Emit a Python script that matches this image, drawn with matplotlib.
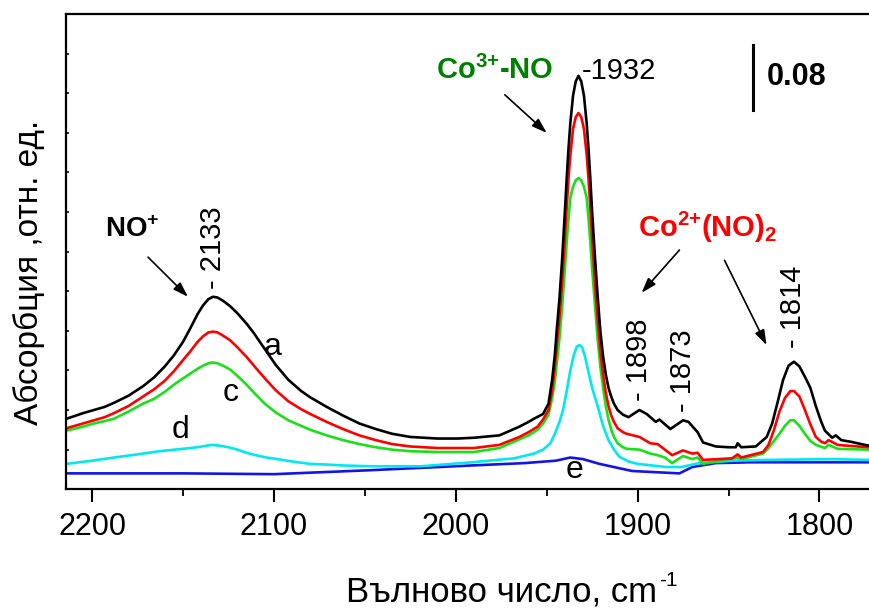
import numpy as np
import matplotlib
matplotlib.use('Agg')
import matplotlib.pyplot as plt
from matplotlib.ticker import MultipleLocator

plt.rcParams['font.family'] = ['Liberation Sans', 'DejaVu Sans']
plt.rcParams['mathtext.fontset'] = 'custom'
plt.rcParams['mathtext.rm'] = 'Liberation Sans'
plt.rcParams['mathtext.bf'] = 'Liberation Sans:bold'

# spectrum a (black)
wn_a = [2214, 2205, 2199, 2193, 2188, 2180, 2172, 2166, 2160, 2155, 2150, 2146, 2142, 2139,
        2136, 2133.5, 2131, 2128, 2124, 2120, 2115, 2111, 2105, 2099, 2092, 2085, 2080, 2071,
        2062, 2053, 2044, 2035, 2025, 2010, 1999, 1990, 1976, 1965, 1960, 1957, 1952, 1949,
        1947, 1945.5, 1944.5, 1943, 1941.5, 1940, 1939, 1938, 1937, 1935.5, 1934, 1932.5,
        1931, 1929.5, 1928, 1927, 1926, 1925, 1923.5, 1922, 1920.5, 1919, 1917.5, 1916,
        1914.5, 1913, 1911, 1908, 1905, 1899, 1895, 1890, 1888, 1882, 1875, 1872, 1867, 1864,
        1857, 1850, 1846, 1845, 1843, 1835, 1829, 1826, 1823, 1820, 1817, 1814, 1811, 1808,
        1805, 1802, 1799, 1797, 1793, 1791, 1788, 1783, 1773, 1740]
abs_a = [0.089, 0.096, 0.100, 0.104, 0.109, 0.118, 0.130, 0.141, 0.155, 0.169, 0.186, 0.203,
         0.221, 0.232, 0.240, 0.243, 0.242, 0.238, 0.231, 0.222, 0.209, 0.197, 0.177, 0.157,
         0.138, 0.124, 0.116, 0.104, 0.093, 0.083, 0.076, 0.070, 0.066, 0.064, 0.064, 0.065,
         0.068, 0.079, 0.085, 0.089, 0.095, 0.108, 0.138, 0.170, 0.200, 0.240, 0.290, 0.350,
         0.392, 0.430, 0.462, 0.497, 0.515, 0.522, 0.515, 0.497, 0.462, 0.430, 0.392, 0.350,
         0.295, 0.245, 0.200, 0.168, 0.145, 0.128, 0.117, 0.108, 0.100, 0.094, 0.091, 0.100,
         0.095, 0.085, 0.088, 0.076, 0.087, 0.085, 0.072, 0.059, 0.054, 0.053, 0.053, 0.058,
         0.053, 0.054, 0.066, 0.083, 0.110, 0.138, 0.156, 0.161, 0.155, 0.142, 0.128, 0.105,
         0.085, 0.074, 0.065, 0.068, 0.062, 0.060, 0.055, 0.052]

# spectrum b (red)
wn_b = [2214, 2205, 2199, 2193, 2188, 2180, 2172, 2166, 2160, 2155, 2150, 2146, 2142, 2139,
        2136, 2133.5, 2131, 2128, 2124, 2120, 2115, 2111, 2105, 2099, 2092, 2085, 2080, 2071,
        2062, 2053, 2044, 2035, 2025, 2010, 1990, 1976, 1965, 1960, 1955, 1952, 1949, 1947,
        1945.5, 1944.5, 1943, 1941.5, 1940, 1939, 1938, 1937, 1935.5, 1934, 1932.5, 1931,
        1929.5, 1928, 1927, 1926, 1925, 1923.5, 1922, 1920.5, 1919, 1917.5, 1916, 1914.5,
        1913, 1911, 1908, 1906, 1899, 1893, 1889, 1885, 1881, 1875, 1870, 1867, 1864, 1848,
        1845, 1843, 1831, 1828, 1825, 1822, 1819, 1816, 1814, 1811, 1808, 1805, 1802, 1799,
        1797, 1795, 1790, 1785, 1773, 1740]
abs_b = [0.077, 0.083, 0.087, 0.091, 0.096, 0.105, 0.117, 0.126, 0.137, 0.149, 0.163, 0.174,
         0.186, 0.193, 0.198, 0.199, 0.198, 0.194, 0.188, 0.179, 0.167, 0.156, 0.140, 0.125,
         0.111, 0.101, 0.095, 0.085, 0.076, 0.068, 0.062, 0.057, 0.054, 0.052, 0.052, 0.056,
         0.066, 0.072, 0.079, 0.088, 0.100, 0.125, 0.155, 0.180, 0.217, 0.262, 0.317, 0.356,
         0.392, 0.422, 0.455, 0.470, 0.475, 0.470, 0.455, 0.422, 0.392, 0.356, 0.317, 0.262,
         0.215, 0.175, 0.145, 0.122, 0.105, 0.093, 0.085, 0.077, 0.072, 0.070, 0.066, 0.058,
         0.057, 0.050, 0.043, 0.049, 0.045, 0.046, 0.037, 0.039, 0.044, 0.040, 0.047, 0.056,
         0.075, 0.098, 0.115, 0.124, 0.124, 0.117, 0.100, 0.082, 0.066, 0.060, 0.058, 0.062,
         0.056, 0.055, 0.053, 0.052]

# spectrum c (green)
wn_c = [2214, 2205, 2199, 2193, 2188, 2180, 2172, 2166, 2160, 2155, 2150, 2146, 2142, 2139,
        2136, 2133.5, 2131, 2128, 2124, 2120, 2115, 2111, 2105, 2099, 2092, 2085, 2080, 2071,
        2062, 2053, 2044, 2035, 2025, 2010, 1990, 1976, 1965, 1960, 1955, 1952, 1949, 1947,
        1945.5, 1944.5, 1943, 1941.5, 1940, 1939, 1938, 1937, 1935.5, 1934, 1932.5, 1931,
        1929.5, 1928, 1927, 1926, 1925, 1923.5, 1922, 1920.5, 1919, 1917.5, 1916, 1914.5,
        1913, 1911, 1908, 1906, 1899, 1893, 1889, 1885, 1881, 1875, 1870, 1867, 1864, 1855,
        1845, 1843, 1831, 1828, 1825, 1822, 1819, 1816, 1814, 1811, 1808, 1805, 1802, 1797,
        1795, 1790, 1773, 1740]
abs_c = [0.074, 0.079, 0.083, 0.086, 0.089, 0.098, 0.108, 0.114, 0.123, 0.132, 0.140, 0.146,
         0.152, 0.156, 0.159, 0.160, 0.159, 0.156, 0.151, 0.143, 0.132, 0.122, 0.108, 0.097,
         0.087, 0.080, 0.075, 0.068, 0.062, 0.057, 0.053, 0.050, 0.048, 0.047, 0.047, 0.052,
         0.063, 0.068, 0.075, 0.083, 0.094, 0.115, 0.136, 0.158, 0.190, 0.230, 0.278, 0.312,
         0.342, 0.368, 0.382, 0.390, 0.393, 0.390, 0.382, 0.368, 0.342, 0.312, 0.278, 0.234,
         0.190, 0.155, 0.128, 0.105, 0.088, 0.075, 0.066, 0.058, 0.053, 0.051, 0.050, 0.045,
         0.043, 0.040, 0.033, 0.042, 0.038, 0.040, 0.032, 0.036, 0.040, 0.038, 0.045, 0.052,
         0.061, 0.070, 0.080, 0.087, 0.087, 0.080, 0.070, 0.061, 0.056, 0.052, 0.056, 0.051,
         0.050, 0.050]

# spectrum d (cyan)
wn_d = [2214, 2200, 2188, 2175, 2163, 2150, 2142, 2137, 2134, 2130, 2125, 2120, 2115, 2110,
        2104, 2098, 2090, 2080, 2070, 2062, 2047, 2019, 1991, 1968, 1957, 1952, 1948, 1945.5,
        1943, 1941, 1939, 1937, 1935, 1933.5, 1932, 1930.5, 1929, 1927, 1925, 1922, 1919,
        1916, 1913, 1910, 1905, 1900, 1884, 1876, 1866, 1848, 1830, 1793, 1773, 1740]
abs_d = [0.032, 0.036, 0.040, 0.044, 0.048, 0.051, 0.053, 0.055, 0.056, 0.055, 0.053, 0.050,
         0.046, 0.043, 0.040, 0.038, 0.035, 0.032, 0.031, 0.030, 0.029, 0.029, 0.034, 0.039,
         0.045, 0.050, 0.058, 0.070, 0.085, 0.100, 0.124, 0.150, 0.170, 0.180, 0.182, 0.179,
         0.168, 0.148, 0.128, 0.105, 0.080, 0.062, 0.050, 0.041, 0.035, 0.032, 0.028, 0.028,
         0.033, 0.036, 0.037, 0.038, 0.037, 0.037]

# spectrum e (blue)
wn_e = [2214, 2150, 2100, 2047, 1991, 1962, 1945, 1937, 1930, 1921, 1903, 1877, 1870, 1857,
        1838, 1773, 1740]
abs_e = [0.020, 0.020, 0.019, 0.024, 0.030, 0.033, 0.036, 0.040, 0.038, 0.032, 0.023, 0.020,
         0.028, 0.033, 0.034, 0.034, 0.034]

series = [(wn_e, abs_e, '#1414e6'), (wn_d, abs_d, '#00e8f0'), (wn_c, abs_c, '#19e019'),
          (wn_b, abs_b, '#ff0000'), (wn_a, abs_a, '#000000')]

fig = plt.figure(figsize=(8.69, 6.10), dpi=100)
ax = fig.add_axes([0.076, 0.198, 1.003, 0.779])

for wn, ab, col in series:
    ax.plot(wn, ab, color=col, lw=1.9)

ax.set_xlim(2214.3, 1735)
ax.set_ylim(0, 0.6)
ax.xaxis.set_major_locator(MultipleLocator(100))
ax.xaxis.set_minor_locator(MultipleLocator(50))
ax.yaxis.set_major_locator(MultipleLocator(0.05))
ax.set_yticklabels([])
ax.tick_params(axis='x', which='major', direction='out', length=9.5, width=1.5,
               labelsize=22, pad=7)
ax.tick_params(axis='x', which='minor', direction='out', length=5, width=1.3)
ax.tick_params(axis='y', which='major', direction='in', length=2.5, width=1.2)
for s in ax.spines.values():
    s.set_linewidth(1.6)
ax.spines['right'].set_visible(False)

ax.set_xlabel('Вълново число, cm', fontsize=25, labelpad=24)
ax.annotate('-1', xy=(1, 1), xycoords=ax.xaxis.label, xytext=(1, 3),
            textcoords='offset points', fontsize=15, ha='left', va='top')
ax.set_ylabel('Абсорбция ,отн. ед.', fontsize=24)
ax.yaxis.set_label_coords(-0.024, 0.457)

# curve letters
ax.text(2100.5, 0.179, 'a', fontsize=23, ha='center', va='center')
ax.text(2124, 0.121, 'c', fontsize=23, ha='center', va='center')
ax.text(2151.6, 0.075, 'd', fontsize=23, ha='center', va='center')
ax.text(1934.6, 0.024, 'e', fontsize=23, ha='center', va='center')

# band positions
ax.text(2133.5, 0.253, '- 2133', fontsize=21, rotation=90, ha='center', va='bottom')
ax.text(1899, 0.112, '- 1898', fontsize=21, rotation=90, ha='center', va='bottom')
ax.text(1875.3, 0.097, '- 1873', fontsize=21, rotation=90, ha='center', va='bottom')
ax.text(1814.8, 0.178, '- 1814', fontsize=21, rotation=90, ha='center', va='bottom')
ax.text(1930.7, 0.528, '-1932', fontsize=21, ha='left', va='center')

# species labels
ax.text(2178, 0.327, 'NO$^{\\mathbf{{+}}}$', fontsize=20, fontweight='bold',
        ha='center', va='center')
ax.text(1978.6, 0.518, 'Co$^{\\mathbf{3{+}}}$-NO', fontsize=21, fontweight='bold',
        color='#008000', ha='center', va='baseline')
ax.text(1900, 0.318, 'Co$^{\\mathbf{2{+}}}$(NO)$_{\\mathbf{2}}$', fontsize=21,
        fontweight='bold', color='#ff0000', ha='left', va='baseline')

arrow = dict(arrowstyle='-|>,head_length=0.9,head_width=0.3', color='black', lw=1.2,
             shrinkA=0, shrinkB=0)
ax.annotate('', xy=(2147.3, 0.243), xytext=(2169.2, 0.293), arrowprops=arrow)
ax.annotate('', xy=(1950, 0.450), xytext=(1973, 0.498), arrowprops=arrow)
ax.annotate('', xy=(1897.8, 0.248), xytext=(1877, 0.302), arrowprops=arrow)
ax.annotate('', xy=(1829.1, 0.182), xytext=(1852.2, 0.289), arrowprops=arrow)

# scale bar
ax.plot([1836.3, 1836.3], [0.479, 0.561], color='black', lw=2.2)
ax.text(1829.1, 0.520, '0.08', fontsize=22, fontweight='bold', ha='left', va='center')

fig.savefig('out.png', dpi=100)
